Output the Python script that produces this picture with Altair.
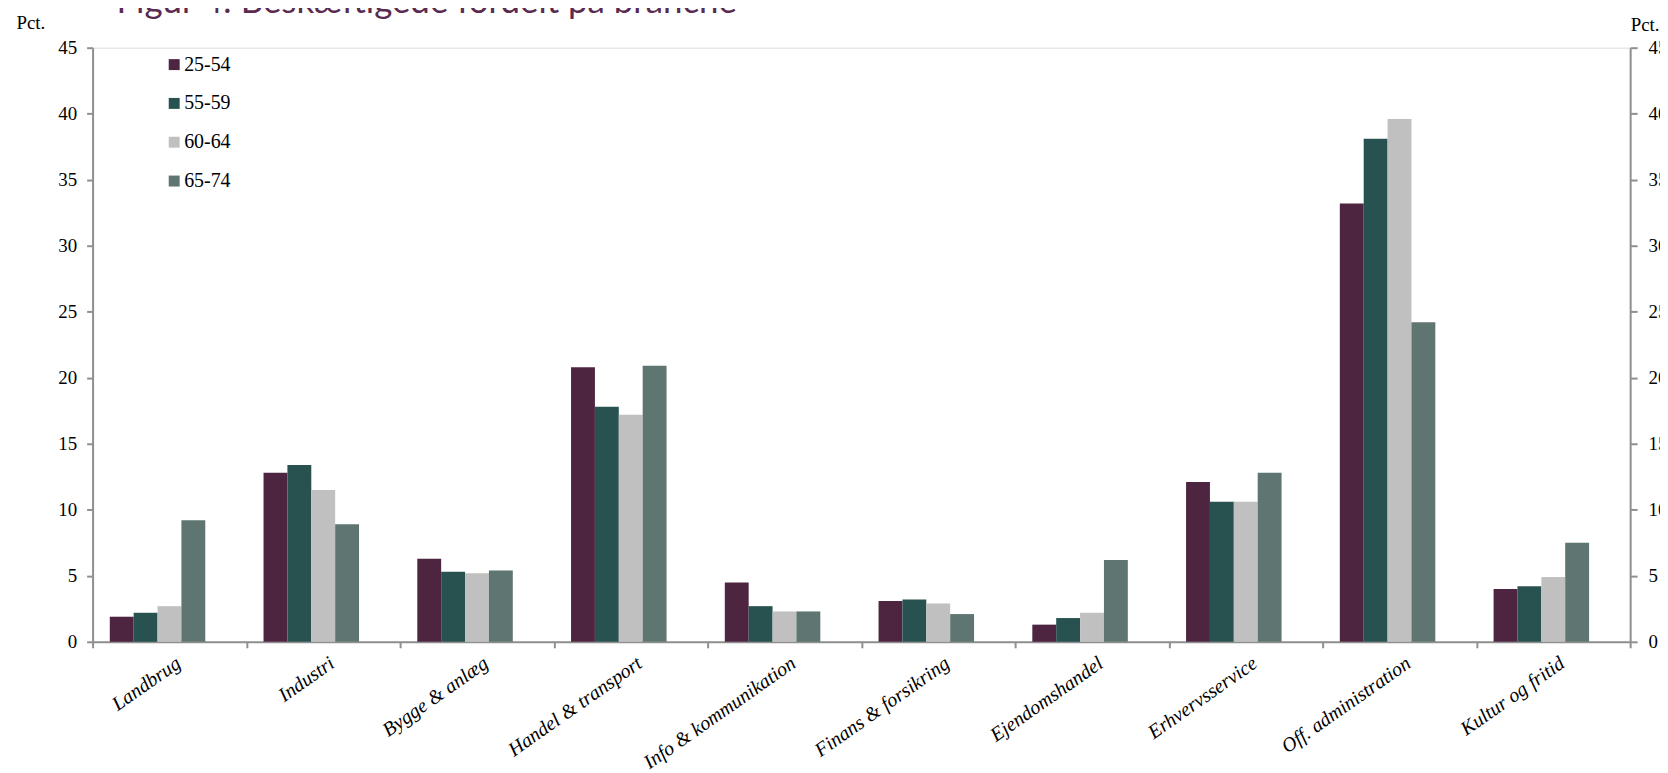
import altair as alt
import pandas as pd

TITLE = "Figur 4: Beskæftigede fordelt på branche"
categories = ["Landbrug", "Industri", "Bygge & anlæg", "Handel & transport",
              "Info & kommunikation", "Finans & forsikring", "Ejendomshandel",
              "Erhvervsservice", "Off. administration", "Kultur og fritid"]
series = ["25-54", "55-59", "60-64", "65-74"]
v_25_54 = [1.9, 12.8, 6.3, 20.8, 4.5, 3.1, 1.3, 12.1, 33.2, 4.0]
v_55_59 = [2.2, 13.4, 5.3, 17.8, 2.7, 3.2, 1.8, 10.6, 38.1, 4.2]
v_60_64 = [2.7, 11.5, 5.2, 17.2, 2.3, 2.9, 2.2, 10.6, 39.6, 4.9]
v_65_74 = [9.2, 8.9, 5.4, 20.9, 2.3, 2.1, 6.2, 12.8, 24.2, 7.5]
colors = ["#4E2540", "#28524F", "#C0C0C0", "#5E7571"]
y_ticks = [0, 5, 10, 15, 20, 25, 30, 35, 40, 45]

rows = []
for s, vals in zip(series, [v_25_54, v_55_59, v_60_64, v_65_74]):
    for c, v in zip(categories, vals):
        rows.append({"Branche": c, "Alder": s, "Pct": v})
df = pd.DataFrame(rows)

FONT = "Liberation Serif"
AXIS_GRAY = "#8F8F8F"

x_enc = alt.X("Branche:N", sort=categories,
              scale=alt.Scale(paddingInner=0, paddingOuter=0),
              axis=alt.Axis(title=None, labelAngle=-35, labelAlign="right",
                            labelBaseline="top", labelFont=FONT,
                            labelFontStyle="italic", labelFontSize=20,
                            labelColor="#000000", labelPadding=5,
                            labelOffset=3, labelLimit=400,
                            tickBand="extent", tickSize=6,
                            tickColor=AXIS_GRAY, tickWidth=2,
                            domainColor=AXIS_GRAY, domainWidth=2,
                            grid=False, labelOverlap=False))

bars = alt.Chart(df).mark_bar().encode(
    x=x_enc,
    xOffset=alt.XOffset("Alder:N",
                        scale=alt.Scale(domain=series + ["_"],
                                        paddingInner=0, paddingOuter=0.72)),
    y=alt.Y("Pct:Q", scale=alt.Scale(domain=[0, 45], nice=False),
            axis=alt.Axis(title="Pct.", titleAngle=0, titleX=-77, titleY=-19,
                          titleAlign="left", titleBaseline="alphabetic",
                          titleFont=FONT, titleFontSize=19,
                          titleFontWeight="normal", titleColor="#000000",
                          values=y_ticks, labelFont=FONT, labelFontSize=19,
                          labelColor="#000000", labelPadding=10, tickSize=6,
                          tickColor=AXIS_GRAY, tickWidth=2,
                          domainColor=AXIS_GRAY, domainWidth=2, grid=False)),
    color=alt.Color("Alder:N",
                    scale=alt.Scale(domain=series, range=colors),
                    legend=alt.Legend(title=None, orient="none", legendX=72,
                                      legendY=7, symbolType="square",
                                      symbolSize=121, symbolStrokeWidth=0,
                                      labelFont=FONT, labelFontSize=20,
                                      labelColor="#000000", rowPadding=19,
                                      labelOffset=0)),
)

right_axis = alt.Chart(df).mark_point(opacity=0).encode(
    x=alt.X("Branche:N", sort=categories),
    y=alt.Y("Pct:Q", scale=alt.Scale(domain=[0, 45], nice=False),
            axis=alt.Axis(orient="right", title="Pct.", titleAngle=0,
                          titleX=0, titleY=-17, titleAlign="left",
                          titleBaseline="alphabetic", titleFont=FONT,
                          titleFontSize=19, titleFontWeight="normal",
                          titleColor="#000000", values=y_ticks,
                          labelFont=FONT, labelFontSize=19,
                          labelColor="#000000", labelPadding=11, tickSize=7,
                          tickColor=AXIS_GRAY, tickWidth=2,
                          domainColor=AXIS_GRAY, domainWidth=2, grid=False)),
)

title = alt.Chart(pd.DataFrame({"t": [TITLE]})).mark_text(
    align="left", baseline="alphabetic", font="Lato", fontSize=35,
    color="#5A2A50"
).encode(text="t:N", x=alt.value(24), y=alt.value(-35))

chart = alt.layer(bars, right_axis, title).resolve_scale(
    y="independent"
).properties(
    width=1545, height=597,
    autosize=alt.AutoSizeParams(type="none"),
    padding={"left": 85, "top": 38, "right": 30, "bottom": 140},
).configure_view(stroke=None).configure(background="#FFFFFF")

chart.save("out.html", embed_options={"renderer": "svg", "actions": False})
